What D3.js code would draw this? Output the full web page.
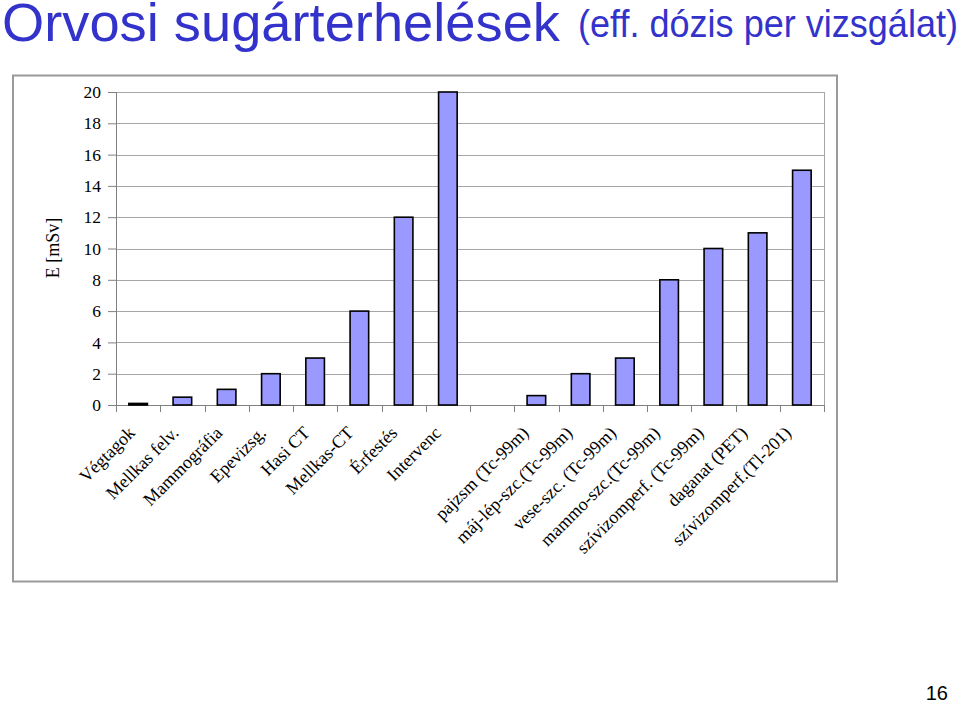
<!DOCTYPE html>
<html>
<head>
<meta charset="utf-8">
<script src="https://cdn.jsdelivr.net/npm/d3@7"></script>
<style>
  html, body { margin: 0; padding: 0; background: #fff; }
  svg { display: block; }
</style>
</head>
<body>
<svg id="chart" width="960" height="704"></svg>
<script>
// ---- data ----
const categories = [
  "Végtagok", "Mellkas felv.", "Mammográfia", "Epevizsg.", "Hasi CT", "Mellkas-CT",
  "Érfestés", "Intervenc", "", "pajzsm (Tc-99m)", "máj-lép-szc.(Tc-99m)",
  "vese-szc. (Tc-99m)", "mammo-szc.(Tc-99m)", "szívizomperf. (Tc-99m)",
  "daganat (PET)", "szívizomperf.(Tl-201)"
];
const values = [0.1, 0.5, 1, 2, 3, 6, 12, 20, null, 0.6, 2, 3, 8, 10, 11, 15];
const yTicks = [0, 2, 4, 6, 8, 10, 12, 14, 16, 18, 20];
const titleMain = "Orvosi sugárterhelések";
const titleSub = "(eff. dózis per vizsgálat)";
const yTitle = "E [mSv]";
const pageNumber = "16";

// ---- layout ----
const svg = d3.select("#chart");
const plot = { left: 116, right: 824, top: 92, bottom: 405 };
const serif = "'Liberation Serif', 'Times New Roman', serif";
const sans = "'Liberation Sans', Arial, sans-serif";
const blue = "#3333cc";

// title
svg.append("text")
  .attr("x", 2).attr("y", 41)
  .attr("font-family", sans).attr("font-size", 53).attr("fill", blue)
  .attr("textLength", 558).attr("lengthAdjust", "spacingAndGlyphs")
  .text(titleMain);
svg.append("text")
  .attr("x", 578).attr("y", 37)
  .attr("font-family", sans).attr("font-size", 39).attr("fill", blue)
  .attr("textLength", 380).attr("lengthAdjust", "spacingAndGlyphs")
  .text(titleSub);

// chart frame
svg.append("rect")
  .attr("x", 13).attr("y", 75.5).attr("width", 824).attr("height", 506)
  .attr("fill", "#fff").attr("stroke", "#9a9a9a").attr("stroke-width", 2);

// scales
const x = d3.scaleBand().domain(d3.range(categories.length))
  .range([plot.left, plot.right]).paddingInner(0).paddingOuter(0);
const xLabel = d3.scaleBand().domain(d3.range(categories.length))
  .range([plot.left + 4, plot.right - 4]).paddingInner(0).paddingOuter(0);
const y = d3.scaleLinear().domain([0, 20]).range([plot.bottom, plot.top]);

// gridlines
svg.append("g").selectAll("line").data(yTicks.filter(d => d > 0)).join("line")
  .attr("x1", plot.left).attr("x2", plot.right)
  .attr("y1", d => Math.round(y(d)) + 0.5).attr("y2", d => Math.round(y(d)) + 0.5)
  .attr("stroke", "#a6a6a6").attr("stroke-width", 1);

// plot border (right)
svg.append("line")
  .attr("x1", plot.right + 0.5).attr("x2", plot.right + 0.5)
  .attr("y1", plot.top).attr("y2", plot.bottom)
  .attr("stroke", "#a6a6a6");

// y axis
const yAxis = d3.axisLeft(y).tickValues(yTicks).tickSize(8).tickPadding(7)
  .tickFormat(d3.format("d"));
const gy = svg.append("g").attr("transform", `translate(${plot.left},0)`).call(yAxis);
gy.select(".domain").attr("stroke", "#808080");
gy.selectAll(".tick line").attr("stroke", "#808080");
gy.selectAll(".tick text").attr("font-family", serif).attr("font-size", 17.5).attr("fill", "#000");

// x axis line and category ticks (at boundaries)
svg.append("line")
  .attr("x1", plot.left).attr("x2", plot.right)
  .attr("y1", plot.bottom + 0.5).attr("y2", plot.bottom + 0.5)
  .attr("stroke", "#808080");
const boundaries = d3.range(categories.length + 1).map(i =>
  i < categories.length ? x(i) : x(categories.length - 1) + x.bandwidth());
svg.append("g").selectAll("line").data(boundaries).join("line")
  .attr("x1", d => Math.round(d) + 0.5).attr("x2", d => Math.round(d) + 0.5)
  .attr("y1", plot.bottom).attr("y2", plot.bottom + 7)
  .attr("stroke", "#808080");

// bars
const barW = x.bandwidth() * 0.42;
svg.append("g").selectAll("rect")
  .data(values.map((v, i) => ({ v, i })).filter(d => d.v !== null))
  .join("rect")
  .attr("x", d => x(d.i) + (x.bandwidth() - barW) / 2)
  .attr("width", barW)
  .attr("y", d => y(d.v))
  .attr("height", d => y(0) - y(d.v))
  .attr("fill", "#9999ff")
  .attr("stroke", "#000").attr("stroke-width", 1.6);

// category labels
svg.append("g").selectAll("text")
  .data(categories.map((c, i) => ({ c, i })).filter(d => d.c !== ""))
  .join("text")
  .attr("transform", d => `translate(${xLabel(d.i) + xLabel.bandwidth() / 2 - 6},${434}) rotate(-45)`)
  .attr("text-anchor", "end")
  .attr("font-family", serif).attr("font-size", 18).attr("fill", "#000")
  .text(d => d.c);

// y-axis title
svg.append("text")
  .attr("transform", `translate(59,248) rotate(-90)`)
  .attr("text-anchor", "middle")
  .attr("font-family", serif).attr("font-size", 18).attr("fill", "#000")
  .text(yTitle);

// page number
svg.append("text")
  .attr("x", 948).attr("y", 700).attr("text-anchor", "end")
  .attr("font-family", sans).attr("font-size", 20).attr("fill", "#000")
  .text(pageNumber);
</script>
</body>
</html>
